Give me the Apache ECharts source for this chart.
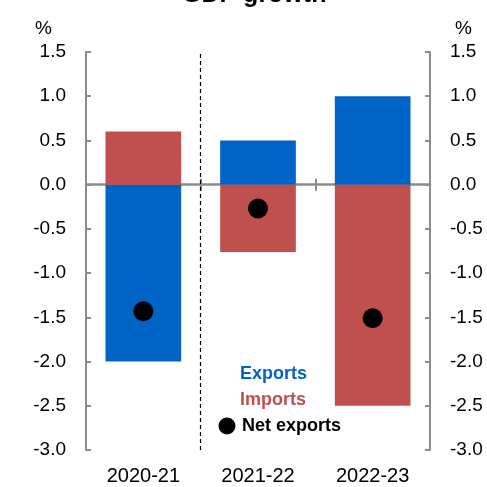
<!DOCTYPE html>
<html>
<head>
<meta charset="utf-8">
<script src="https://cdn.jsdelivr.net/npm/echarts@6/dist/echarts.min.js"></script>
<style>
  html, body { margin: 0; padding: 0; background: #fff; }
  #chart { width: 487px; height: 487px; }
</style>
</head>
<body>
<div id="chart"></div>
<script>
// Contributions to GDP growth, percentage points
const categories = ['2020-21', '2021-22', '2022-23'];
const exportsData = [-2.0, 0.5, 1.0];
const importsData = [0.6, -0.76, -2.5];
const netExports = [-1.43, -0.27, -1.51];
const yTicks = { min: -3, max: 1.5, interval: 0.5 };
// Dashed separator after the first year (category boundary index)
const separatorAfter = 1;

const BLUE = '#0063c6';
const RED = '#c0504d';
const GREY = '#8c8c8c';
const FONT = 'Liberation Sans, Arial, sans-serif';

const chart = echarts.init(document.getElementById('chart'), null, { renderer: 'canvas' });

const yAxisCommon = {
  type: 'value',
  min: yTicks.min,
  max: yTicks.max,
  interval: yTicks.interval,
  axisLine: { show: true, lineStyle: { color: GREY, width: 2 } },
  axisTick: { show: true, inside: true, length: 5, lineStyle: { color: GREY, width: 2 } },
  splitLine: { show: false },
  axisLabel: {
    color: '#000', fontSize: 19, fontFamily: FONT, margin: 20,
    formatter: v => v.toFixed(1)
  }
};

chart.setOption({
  animation: false,
  grid: { left: 86, right: 57, top: 52, bottom: 37 },
  xAxis: [
    {
      type: 'category',
      data: categories,
      position: 'bottom',
      axisLine: { onZero: true, lineStyle: { color: GREY, width: 2.5 } },
      axisTick: { show: true, length: 6, lineStyle: { color: GREY, width: 2 } },
      axisLabel: { color: '#000', fontSize: 20, fontFamily: FONT, margin: 16 },
      splitLine: { show: false }
    },
    {
      type: 'category',
      data: categories,
      position: 'top',
      axisLine: { show: false, onZero: true },
      axisTick: { show: true, length: 6, lineStyle: { color: GREY, width: 2 } },
      axisLabel: { show: false },
      splitLine: { show: false }
    },
    {
      // continuous companion scale across the category bands, used for the separator
      type: 'value',
      min: 0,
      max: categories.length,
      show: false
    }
  ],
  yAxis: [
    Object.assign({}, yAxisCommon, { position: 'left' }),
    Object.assign({}, yAxisCommon, { position: 'right' })
  ],
  series: [
    {
      name: 'Exports', type: 'bar', stack: 'trade', data: exportsData,
      barWidth: '66%', itemStyle: { color: BLUE }, z: 2
    },
    {
      name: 'Imports', type: 'bar', stack: 'trade', data: importsData,
      barWidth: '66%', itemStyle: { color: RED }, z: 2
    },
    {
      name: 'Net exports', type: 'scatter', data: netExports,
      symbol: 'circle', symbolSize: 20, itemStyle: { color: '#000', opacity: 1 }, z: 5
    },
    {
      name: 'separator', type: 'line', xAxisIndex: 2, yAxisIndex: 0,
      data: [], silent: true, z: 1,
      markLine: {
        silent: true,
        symbol: 'none',
        animation: false,
        label: { show: false },
        lineStyle: { color: '#000', width: 1.2, type: [4, 3] },
        data: [{ xAxis: separatorAfter }]
      }
    }
  ],
  graphic: [
    { type: 'text', left: 182, top: -17, style: { text: 'GDP growth', fontSize: 25, fontWeight: 'bold', fontFamily: FONT, fill: '#000' } },
    { type: 'text', left: 35, top: 19, style: { text: '%', fontSize: 19, fontFamily: FONT, fill: '#000' } },
    { type: 'text', left: 455, top: 19, style: { text: '%', fontSize: 19, fontFamily: FONT, fill: '#000' } },
    { type: 'text', left: 240, top: 365, style: { text: 'Exports', fontSize: 18, fontWeight: 'bold', fontFamily: FONT, fill: BLUE } },
    { type: 'text', left: 240, top: 391, style: { text: 'Imports', fontSize: 18, fontWeight: 'bold', fontFamily: FONT, fill: RED } },
    { type: 'circle', shape: { cx: 227, cy: 426, r: 8.5 }, style: { fill: '#000' } },
    { type: 'text', left: 242, top: 417, style: { text: 'Net exports', fontSize: 18, fontWeight: 'bold', fontFamily: FONT, fill: '#000' } }
  ]
});
</script>
</body>
</html>
